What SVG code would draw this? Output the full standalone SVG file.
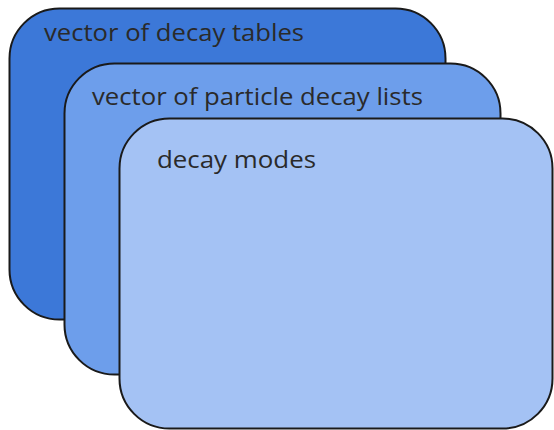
<svg xmlns="http://www.w3.org/2000/svg" width="554" height="430" viewBox="0 0 554 430">
<style>
.box{stroke:#1a1a1a;stroke-width:2}
.lbl{font-family:"Open Sans","Noto Sans",sans-serif;font-size:23px;fill:#2a2a2a}
</style>
<rect width="554" height="430" fill="#ffffff"/>
<g id="decay-tables">
<rect class="box" x="9.5" y="8.5" width="436" height="311" rx="50" ry="50" fill="#3c78d8"/>
<text class="lbl" x="44" y="41" textLength="260" lengthAdjust="spacingAndGlyphs">vector of decay tables</text>
</g>
<g id="particle-decay-lists">
<rect class="box" x="64.5" y="63.5" width="436" height="311" rx="50" ry="50" fill="#6d9eeb"/>
<text class="lbl" x="92" y="105" textLength="331" lengthAdjust="spacingAndGlyphs">vector of particle decay lists</text>
</g>
<g id="decay-modes">
<rect class="box" x="119.5" y="118.5" width="433" height="310" rx="50" ry="50" fill="#a4c2f4"/>
<text class="lbl" x="157" y="168" textLength="159" lengthAdjust="spacingAndGlyphs">decay modes</text>
</g>
<g id="connectors"/>
</svg>
